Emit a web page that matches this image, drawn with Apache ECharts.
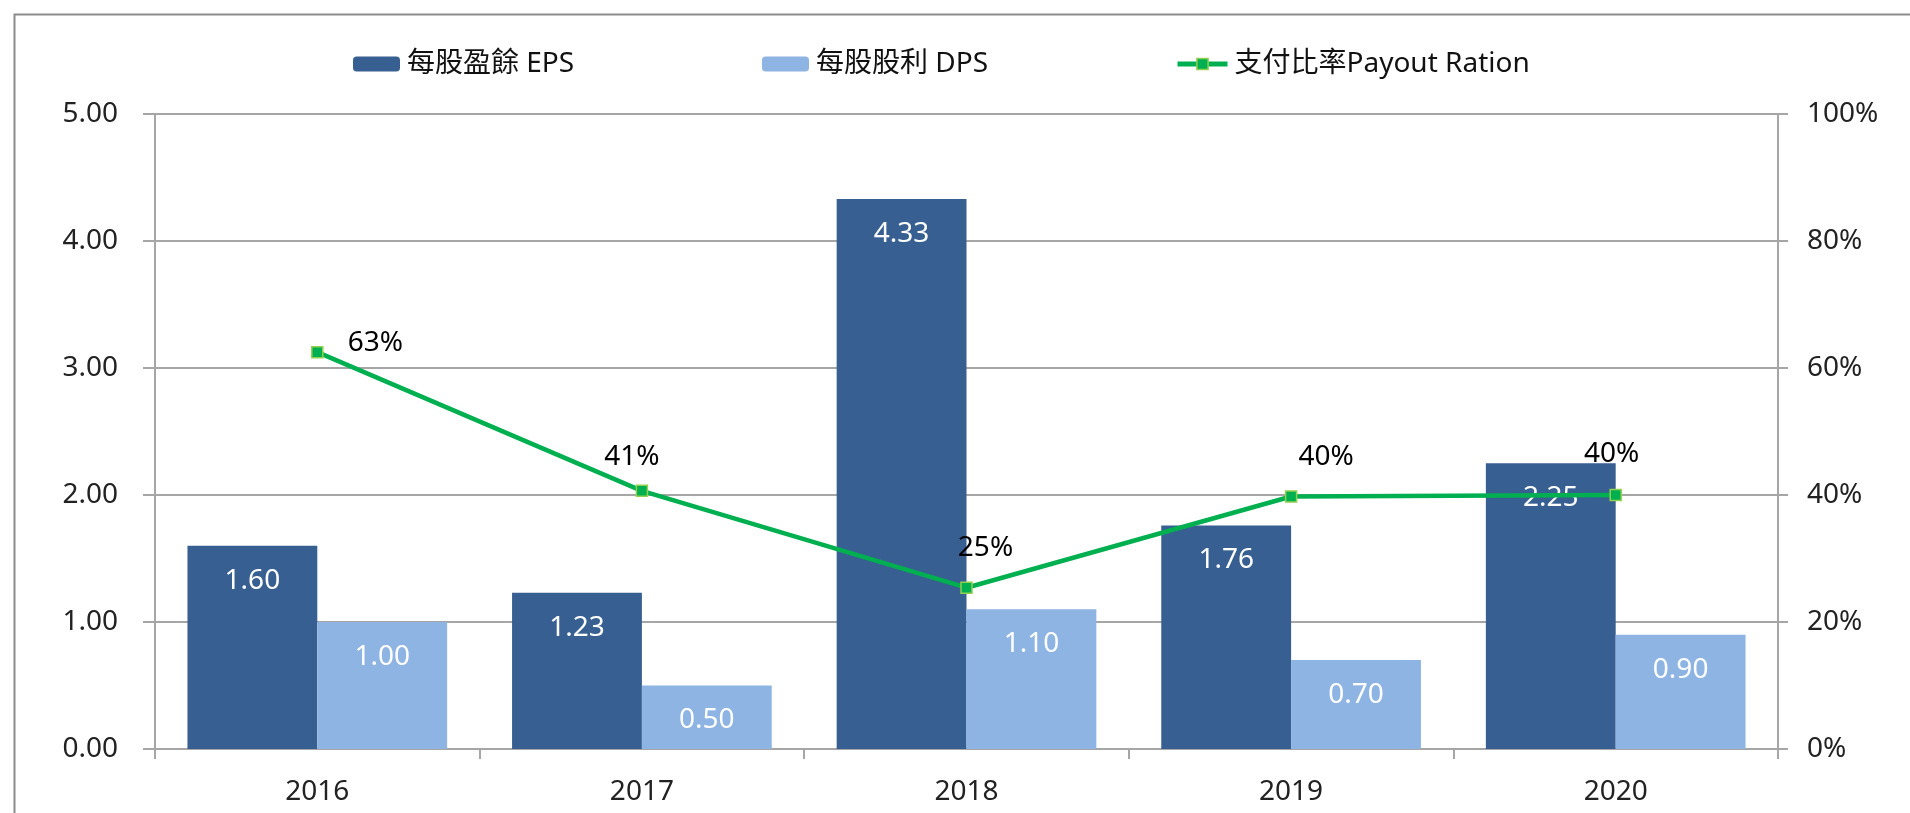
<!DOCTYPE html>
<html>
<head>
<meta charset="utf-8">
<script src="https://cdn.jsdelivr.net/npm/echarts@6/dist/echarts.min.js"></script>
<style>
html,body{margin:0;padding:0;background:#fff;}
#chart{width:1910px;height:813px;}
</style>
</head>
<body>
<div id="chart"></div>
<script>
const years = ['2016', '2017', '2018', '2019', '2020'];
const eps = [1.60, 1.23, 4.33, 1.76, 2.25];
const dps = [1.00, 0.50, 1.10, 0.70, 0.90];
const payout = [0.625, 0.4065, 0.254, 0.3977, 0.40];
const seriesNames = ['每股盈餘 EPS', '每股股利 DPS', '支付比率Payout Ration'];
const leftTicks = { min: 0, max: 5, interval: 1 };
const rightTicks = { min: 0, max: 1, interval: 0.2 };

// label placement style (pixel offsets from each point), separate from data
const pctLabelOffsets = [[58, -9], [-10, -34], [19, -40], [35, -39], [-4, -41]];

const FONT = "'Noto Sans', 'Noto Sans CJK TC', sans-serif";
const TXT = '#222';
const GRID = '#A6A6A6';

const chart = echarts.init(document.getElementById('chart'), null, { renderer: 'canvas' });

function legendAt(left, name, w, h, extra) {
  return Object.assign({
    show: true, left: left, top: 50, padding: 0,
    itemWidth: w, itemHeight: h, itemGap: 0,
    data: [name],
    textStyle: { fontFamily: FONT, fontSize: 28, color: '#111', padding: [0, 0, 0, 2] },
    selectedMode: false
  }, extra || {});
}

const option = {
  animation: false,
  backgroundColor: '#fff',
  graphic: [{
    type: 'rect', left: 12, top: 12, silent: true,
    shape: { width: 1920, height: 900 },
    style: { fill: 'none', stroke: '#8C8C8C', lineWidth: 2 }
  }],
  legend: [
    legendAt(353, seriesNames[0], 47, 15),
    legendAt(762, seriesNames[1], 47, 15),
    legendAt(1175, seriesNames[2], 50, 14, { lineStyle: { width: 5 }, itemStyle: { borderWidth: 1.5, borderColor: '#92D050' } })
  ],
  grid: { left: 155, right: 132, top: 114, bottom: 64, containLabel: false },
  xAxis: {
    type: 'category', data: years, boundaryGap: true,
    axisLine: { show: true, lineStyle: { color: GRID, width: 2 } },
    axisTick: { show: true, length: 10, inside: false, alignWithLabel: false, lineStyle: { color: GRID, width: 2 } },
    axisLabel: { fontFamily: FONT, fontSize: 28, color: TXT, margin: 29 }
  },
  yAxis: [
    {
      type: 'value', min: leftTicks.min, max: leftTicks.max, interval: leftTicks.interval,
      axisLine: { show: true, lineStyle: { color: GRID, width: 2 } },
      axisTick: { show: true, length: 12, lineStyle: { color: GRID, width: 2 } },
      splitLine: { show: true, lineStyle: { color: GRID, width: 2 } },
      axisLabel: { fontFamily: FONT, fontSize: 28, color: TXT, margin: 37, formatter: v => v.toFixed(2) }
    },
    {
      type: 'value', min: rightTicks.min, max: rightTicks.max, interval: rightTicks.interval,
      axisLine: { show: true, lineStyle: { color: GRID, width: 2 } },
      axisTick: { show: true, length: 10, lineStyle: { color: GRID, width: 2 } },
      splitLine: { show: false },
      axisLabel: { fontFamily: FONT, fontSize: 28, color: TXT, margin: 29, formatter: v => Math.round(v * 100) + '%' }
    }
  ],
  series: [
    {
      name: seriesNames[0], type: 'bar', data: eps, yAxisIndex: 0,
      barGap: '0%', barCategoryGap: '20%',
      itemStyle: { color: '#375F91' },
      label: { show: true, position: 'insideTop', distance: 21, color: '#fff', fontFamily: FONT, fontSize: 28, formatter: p => p.value.toFixed(2) },
      z: 2
    },
    {
      name: seriesNames[1], type: 'bar', data: dps, yAxisIndex: 0,
      barGap: '0%', barCategoryGap: '20%',
      itemStyle: { color: '#8EB4E3' },
      label: { show: true, position: 'insideTop', distance: 21, color: '#fff', fontFamily: FONT, fontSize: 28, formatter: p => p.value.toFixed(2) },
      z: 2
    },
    {
      name: seriesNames[2], type: 'line', yAxisIndex: 1,
      data: payout.map((v, i) => ({
        value: v,
        label: { offset: pctLabelOffsets[i] }
      })),
      symbol: 'rect', symbolSize: 11,
      lineStyle: { color: '#00B050', width: 4.5 },
      itemStyle: { color: '#00B050', borderColor: '#92D050', borderWidth: 1.5 },
      label: { show: true, position: 'inside', color: '#000', fontFamily: FONT, fontSize: 28, formatter: p => Math.round(p.value * 100) + '%' },
      z: 5
    }
  ]
};
chart.setOption(option);
</script>
</body>
</html>
